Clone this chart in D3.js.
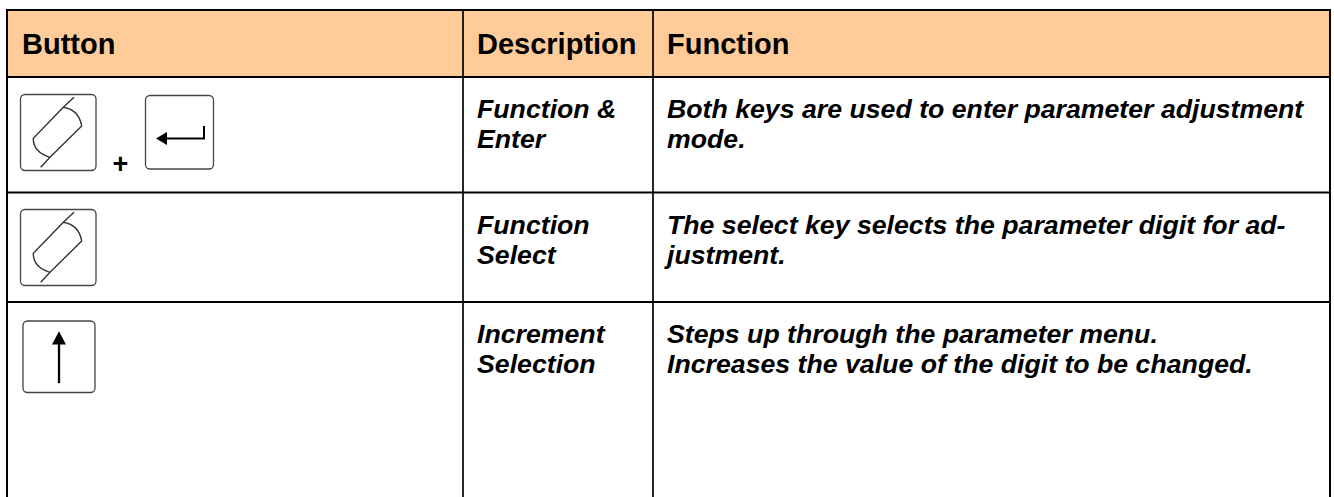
<!DOCTYPE html>
<html><head><meta charset="utf-8">
<script src="https://cdn.jsdelivr.net/npm/d3@7/dist/d3.min.js"></script>
<style>html,body{margin:0;padding:0;background:#fff}svg{display:block}
text{font-family:"Liberation Sans",Arial,sans-serif;fill:#000}</style></head>
<body><svg id="c" width="1334" height="497"></svg>
<script>
const headers = ["Button","Description","Function"];
const descriptions = [["Function &","Enter"],["Function","Select"],["Increment","Selection"]];
const functions = [
  ["Both keys are used to enter parameter adjustment","mode."],
  ["The select key selects the parameter digit for ad-","justment."],
  ["Steps up through the parameter menu.","Increases the value of the digit to be changed."]
];
const columnEdges = [7,463,653,1330];
const rowEdges = [10,77,192.5,302,497];

const svg = d3.select("#c");
svg.append("rect").attr("x",columnEdges[0]).attr("y",rowEdges[0])
  .attr("width",columnEdges[3]-columnEdges[0]).attr("height",rowEdges[1]-rowEdges[0]).attr("fill","#ffcc99");

const hl=svg.append("g").attr("stroke","#000");
rowEdges.slice(0,4).forEach(y=>hl.append("line").attr("stroke-width",2).attr("x1",columnEdges[0]-1).attr("x2",columnEdges[3]+1).attr("y1",y).attr("y2",y));
columnEdges.forEach((x,i)=>hl.append("line").attr("stroke-width",(i==0||i==3)?2:1.7).attr("x1",x).attr("x2",x).attr("y1",rowEdges[0]).attr("y2",497));

const textX=[22,477,667];
svg.selectAll("text.h").data(headers).join("text").attr("class","h")
  .attr("x",(d,i)=>textX[i]).attr("y",54).attr("font-size",29).attr("font-weight",700).text(d=>d);

const rowBase=[118,234,343];
const lh=30;
function lines(col,data){
  data.forEach((ls,r)=>ls.forEach((l,k)=>svg.append("text").attr("x",textX[col]).attr("y",rowBase[r]+k*lh)
    .attr("font-size",26.7).attr("font-weight",700).attr("font-style","italic").text(l)));
}
lines(1,descriptions);lines(2,functions);

function box(g,w,h){g.append("rect").attr("x",.5).attr("y",.5).attr("width",w).attr("height",h).attr("rx",4.5)
  .attr("fill","none").attr("stroke","#444").attr("stroke-width",1.3);}
function select(x,y){
  const g=svg.append("g").attr("transform",`translate(${x},${y})`);box(g,75.5,76);
  g.append("path").attr("d","M20.7 73.3 L30 63.3 M54 3.3 L43.3 13.3 L13.3 44.3 Q13 58 30 63.3 L61.7 32 Q59 16 43.3 13.3")
   .attr("fill","none").attr("stroke","#333").attr("stroke-width",1.4);
}
function enter(x,y){
  const g=svg.append("g").attr("transform",`translate(${x},${y})`);box(g,68,73.5);
  g.append("path").attr("d","M59 31 V43.5 H20").attr("fill","none").attr("stroke","#000").attr("stroke-width",2);
  g.append("path").attr("d","M11 43.5 L22 37 V50 Z").attr("fill","#000");
}
function up(x,y){
  const g=svg.append("g").attr("transform",`translate(${x},${y})`);box(g,72,71.5);
  g.append("path").attr("d","M36.5 22 V62.7").attr("fill","none").attr("stroke","#000").attr("stroke-width",2.3);
  g.append("path").attr("d","M36.5 10.7 L43.5 24 H29.5 Z").attr("fill","#000");
}
select(20,94);
svg.append("text").attr("x",112.5).attr("y",173).attr("font-size",27).attr("font-weight",700).text("+");
enter(145,95);
select(20,209);
up(22.5,320.5);
</script></body></html>
